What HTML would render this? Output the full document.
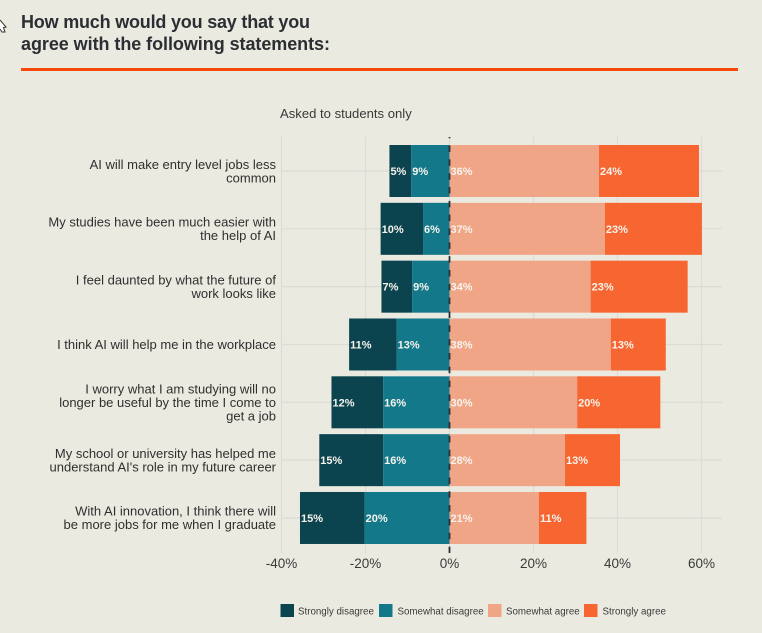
<!DOCTYPE html>
<html lang="en">
<head>
<meta charset="utf-8">
<title>How much would you say that you agree with the following statements</title>
<style>
html,body{margin:0;padding:0;background:#ebeae1;}
body{width:762px;height:633px;overflow:hidden;font-family:"Liberation Sans",sans-serif;}
svg{display:block;}
text{font-family:"Liberation Sans",sans-serif;}
</style>
</head>
<body>
<svg id="chart" width="762" height="633" viewBox="0 0 762 633" xmlns="http://www.w3.org/2000/svg">
  <rect width="762" height="633" fill="#ebeae1"/>
  <path d="M0 20 L6 27 L3.5 27.5 L5 32 L2 32 L0 29" fill="#fff" stroke="#333" stroke-width="1"/>
  <text x="21" y="28" font-size="18" font-weight="700" fill="#2b2f33" textLength="289" lengthAdjust="spacing">How much would you say that you</text>
  <text x="21" y="50" font-size="18" font-weight="700" fill="#2b2f33" textLength="309" lengthAdjust="spacing">agree with the following statements:</text>
  <rect x="21" y="68" width="717" height="3" fill="#f7480c"/>
  <text x="280" y="118" font-size="13.1" fill="#3a3a3a">Asked to students only</text>
  <g id="grid"></g>
  <g id="bars"></g>
  <g id="zero"></g>
  <g id="cats"></g>
  <g id="ticks"></g>
  <g id="legend"></g>
</svg>
<script>
const categories = [
  ["AI will make entry level jobs less", "common"],
  ["My studies have been much easier with", "the help of AI"],
  ["I feel daunted by what the future of", "work looks like"],
  ["I think AI will help me in the workplace"],
  ["I worry what I am studying will no", "longer be useful by the time I come to", "get a job"],
  ["My school or university has helped me", "understand AI's role in my future career"],
  ["With AI innovation, I think there will", "be more jobs for me when I graduate"]
];
const stronglyDisagree = [5.2, 10.1, 7.3, 11.3, 12.3, 15.2, 15.4];
const somewhatDisagree = [9.1, 6.3, 8.9, 12.6, 15.8, 15.8, 20.2];
const somewhatAgree = [35.6, 37.0, 33.6, 38.4, 30.4, 27.5, 21.3];
const stronglyAgree = [23.8, 23.1, 23.1, 13.1, 19.8, 13.1, 11.3];
const tickValues = [-40, -20, 0, 20, 40, 60];
const seriesNames = ["Strongly disagree", "Somewhat disagree", "Somewhat agree", "Strongly agree"];
const NS = "http://www.w3.org/2000/svg";
const COLORS = ["#0b444f", "#13788a", "#f1a587", "#f76531"];
const X0 = 449.5, PX_PER_PCT = 4.2, ROW0 = 171, ROW_STEP = 57.83, BAR_H = 52;
const xScale = v => X0 + v * PX_PER_PCT;
const yScale = i => ROW0 + i * ROW_STEP;
function make(tag, attrs, parent, txt) {
  const el = document.createElementNS(NS, tag);
  for (const k in attrs) el.setAttribute(k, attrs[k]);
  if (txt !== undefined) el.textContent = txt;
  parent.appendChild(el);
  return el;
}
const gridG = document.getElementById("grid");
const barsG = document.getElementById("bars");
const zeroG = document.getElementById("zero");
const catsG = document.getElementById("cats");
const ticksG = document.getElementById("ticks");
const legendG = document.getElementById("legend");
const PANEL_L = 281.5, PANEL_R = 722, PANEL_T = 137, PANEL_B = 553;
tickValues.forEach(t => {
  const l = make("line", {x1: xScale(t), x2: xScale(t), y1: PANEL_T, y2: PANEL_B, stroke: "#dcdbd6", "stroke-width": 1.2}, gridG);
  
  
  const lab = make("text", {x: xScale(t), y: 568, "text-anchor": "middle", "font-size": 13.5, fill: "#3a3a3a"}, ticksG, t + "%");
  
  
});
categories.forEach((lines, i) => {
  const y = yScale(i);
  const g = make("line", {x1: PANEL_L, x2: PANEL_R, y1: y, y2: y, stroke: "#dcdbd6", "stroke-width": 1.2}, gridG);
  
  
  const startY = y + 4.5 - (lines.length - 1) * 6.75;
  lines.forEach((s, j) => {
    const t = make("text", {x: 276, y: startY + j * 13.5, "text-anchor": "end", "font-size": 13, fill: "#2f2f2f"}, catsG, s);
    
    
  });
  const segs = [
    {from: -(somewhatDisagree[i] + stronglyDisagree[i]), v: stronglyDisagree[i], c: 0},
    {from: -somewhatDisagree[i], v: somewhatDisagree[i], c: 1},
    {from: 0, v: somewhatAgree[i], c: 2},
    {from: somewhatAgree[i], v: stronglyAgree[i], c: 3}
  ];
  segs.forEach(s => {
    const r = make("rect", {x: xScale(s.from), y: y - BAR_H / 2, width: s.v * PX_PER_PCT, height: BAR_H, fill: COLORS[s.c]}, barsG);
    
    
    const tx = make("text", {x: xScale(s.from) + 1, y: y + 4, "font-size": 11, "font-weight": 700, fill: "#f6f3ec"}, barsG, Math.round(s.v) + "%");
    
    
  });
});
const zeroLine = make("line", {x1: X0, x2: X0, y1: PANEL_T, y2: PANEL_B, stroke: "#2b2f33", "stroke-width": 1.8, "stroke-dasharray": "6.5 7.33", "stroke-dashoffset": "5.3"}, zeroG);


const swatchX = [280.5, 379, 488, 584];
const labelX = [298, 397.5, 506, 602.5];
seriesNames.forEach((n, i) => {
  const s = make("rect", {x: swatchX[i], y: 604, width: 13.5, height: 13, fill: COLORS[i]}, legendG);
  
  
  const t = make("text", {x: labelX[i], y: 614.5, "font-size": 9.75, fill: "#3a3a3a"}, legendG, n);
  
  
});
</script>
</body>
</html>
